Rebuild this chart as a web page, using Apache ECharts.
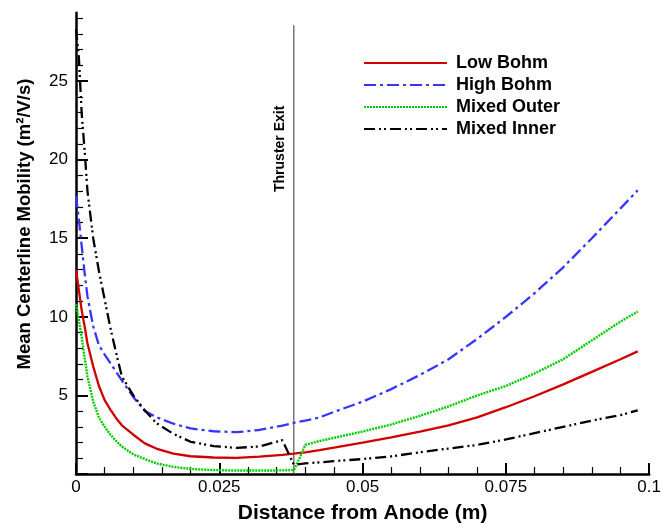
<!DOCTYPE html>
<html>
<head>
<meta charset="utf-8">
<script src="https://cdn.jsdelivr.net/npm/echarts@6/dist/echarts.min.js"></script>
<style>
html,body{margin:0;padding:0;background:#fff;}
#chart{width:664px;height:529px;}
</style>
</head>
<body>
<div id="chart"></div>
<script>
// ---- data ----
const distance   = [0, 0.0005, 0.001, 0.0015, 0.002, 0.003, 0.004, 0.005, 0.006, 0.007, 0.008, 0.010, 0.012, 0.014, 0.017, 0.020, 0.024, 0.028, 0.032, 0.036, 0.038, 0.039, 0.040, 0.0425, 0.045, 0.050, 0.055, 0.060, 0.065, 0.070, 0.075, 0.080, 0.085, 0.090, 0.095, 0.098];
const lowBohm    = [13.0, 11.7, 10.4, 9.4, 8.3, 6.85, 5.6, 4.7, 4.1, 3.55, 3.1, 2.5, 1.95, 1.62, 1.3, 1.13, 1.05, 1.03, 1.1, 1.22, 1.3, 1.35, 1.38, 1.52, 1.68, 2.0, 2.33, 2.7, 3.1, 3.6, 4.25, 4.95, 5.7, 6.5, 7.3, 7.8];
const highBohm   = [17.7, 16.2, 14.5, 12.8, 11.3, 9.4, 8.2, 7.6, 7.05, 6.5, 5.95, 4.9, 4.0, 3.62, 3.2, 2.9, 2.72, 2.66, 2.8, 3.08, 3.26, 3.33, 3.4, 3.6, 3.95, 4.6, 5.4, 6.3, 7.3, 8.6, 10.0, 11.5, 13.15, 15.0, 16.9, 18.05];
const mixedOuter = [10.8, 9.8, 8.7, 7.4, 6.2, 4.6, 3.6, 3.0, 2.5, 2.1, 1.75, 1.25, 0.95, 0.68, 0.45, 0.32, 0.25, 0.22, 0.22, 0.23, 0.25, 1.0, 1.85, 2.1, 2.3, 2.7, 3.15, 3.7, 4.3, 5.0, 5.6, 6.4, 7.3, 8.5, 9.7, 10.33];
const mixedInner = [28.3, 26.5, 22.9, 20.6, 18.0, 15.0, 12.9, 11.1, 9.3, 7.7, 6.2, 5.0, 4.05, 3.25, 2.55, 2.05, 1.78, 1.66, 1.75, 2.15, 0.6, 0.63, 0.68, 0.74, 0.82, 0.95, 1.12, 1.38, 1.62, 1.85, 2.2, 2.6, 3.0, 3.4, 3.75, 4.05];
const seriesNames = ['Low Bohm', 'High Bohm', 'Mixed Outer', 'Mixed Inner'];
const exitX = [0.038, 0.038];
const exitY = [0, 28.55];
const xTickLabels = [0, 0.025, 0.05, 0.075, 0.1];
const yMajorTicks = [0, 5, 10, 15, 20, 25];
const yTickLabels = [5, 10, 15, 20, 25];
const yMinorTicks = [1,2,3,4,6,7,8,9,11,12,13,14,16,17,18,19,21,22,23,24,26,27,28,29];

// ---- chart ----
const FONT = "'Liberation Sans', Arial, Helvetica, sans-serif";
const zip = (xs, ys) => xs.map((x, i) => [x, ys[i]]);
const chart = echarts.init(document.getElementById('chart'), null, {renderer: 'canvas'});

const styles = [
  {color: '#d00000', type: 'solid', width: 2.3},
  {color: '#3535ff', type: [12, 4, 3, 4], width: 2.3},
  {color: '#00cc00', type: [2, 1], width: 2.4},
  {color: '#000000', type: [11, 4, 2, 3, 2, 4], width: 2.3}
];
const values = [lowBohm, highBohm, mixedOuter, mixedInner];

const series = seriesNames.map((n, i) => ({
  name: n,
  type: 'line',
  data: zip(distance, values[i]),
  showSymbol: false,
  symbol: 'none',
  lineStyle: styles[i],
  itemStyle: {color: styles[i].color},
  z: 3 + i,
  animation: false
}));
series.push({
  name: 'exit',
  type: 'line',
  data: zip(exitX, exitY),
  showSymbol: false,
  symbol: 'none',
  lineStyle: {color: '#555555', width: 1.2},
  z: 2,
  animation: false
});

const option = {
  animation: false,
  backgroundColor: '#ffffff',
  grid: {left: 76, right: 14, top: 12.7, bottom: 45, containLabel: false},
  legend: {
    data: seriesNames,
    orient: 'vertical',
    left: 358,
    top: 49,
    itemWidth: 83,
    itemHeight: 14,
    itemGap: 4,
    selectedMode: false,
    itemStyle: {color: 'rgba(0,0,0,0)', borderColor: 'rgba(0,0,0,0)', borderWidth: 0},
    textStyle: {fontSize: 18, fontWeight: 'bold', fontFamily: FONT, color: '#000', padding: [0, 0, 0, 4]}
  },
  xAxis: {
    type: 'value', min: 0, max: 0.1, interval: 0.025,
    axisLine: {show: true, lineStyle: {color: '#000', width: 2.5}},
    axisTick: {show: true, inside: true, length: 11, lineStyle: {color: '#000', width: 2}},
    minorTick: {show: true, splitNumber: 5, length: 7, lineStyle: {color: '#000', width: 1.2}},
    splitLine: {show: false},
    minorSplitLine: {show: false},
    axisLabel: {
      fontSize: 17, color: '#000', fontFamily: FONT, margin: 5,
      formatter: v => { const f = xTickLabels.find(t => Math.abs(t - v) < 1e-9); return f === undefined ? '' : String(f); }
    },
    name: 'Distance from Anode (m)',
    nameLocation: 'middle',
    nameGap: 29,
    nameTextStyle: {fontSize: 21, fontWeight: 'bold', color: '#000', fontFamily: FONT}
  },
  yAxis: [{
    type: 'value', min: 0, max: 29.35, position: 'left',
    axisLine: {show: true, lineStyle: {color: '#000', width: 2.5}},
    axisTick: {show: true, inside: true, length: 12, customValues: yMajorTicks, lineStyle: {color: '#000', width: 2}},
    axisLabel: {customValues: yTickLabels, fontSize: 17, color: '#000', fontFamily: FONT, margin: 8},
    splitLine: {show: false}
  }, {
    type: 'value', min: 0, max: 29.35, position: 'left', offset: 0,
    axisLine: {show: false},
    axisTick: {show: true, inside: true, length: 7, customValues: yMinorTicks, lineStyle: {color: '#000', width: 1.2}},
    axisLabel: {show: false},
    splitLine: {show: false}
  }],
  graphic: [{
    type: 'text',
    x: 25, y: 224,
    rotation: Math.PI / 2,
    style: {
      text: 'Mean Centerline Mobility (m²/V/s)',
      font: 'bold 18.5px ' + FONT,
      fill: '#000',
      align: 'center',
      verticalAlign: 'middle'
    }
  }, {
    type: 'text',
    x: 280, y: 192,
    rotation: Math.PI / 2,
    style: {
      text: 'Thruster Exit',
      font: 'bold 14px ' + FONT,
      fill: '#000',
      align: 'left',
      verticalAlign: 'middle'
    }
  }],
  series: series
};
chart.setOption(option);
</script>
</body>
</html>
